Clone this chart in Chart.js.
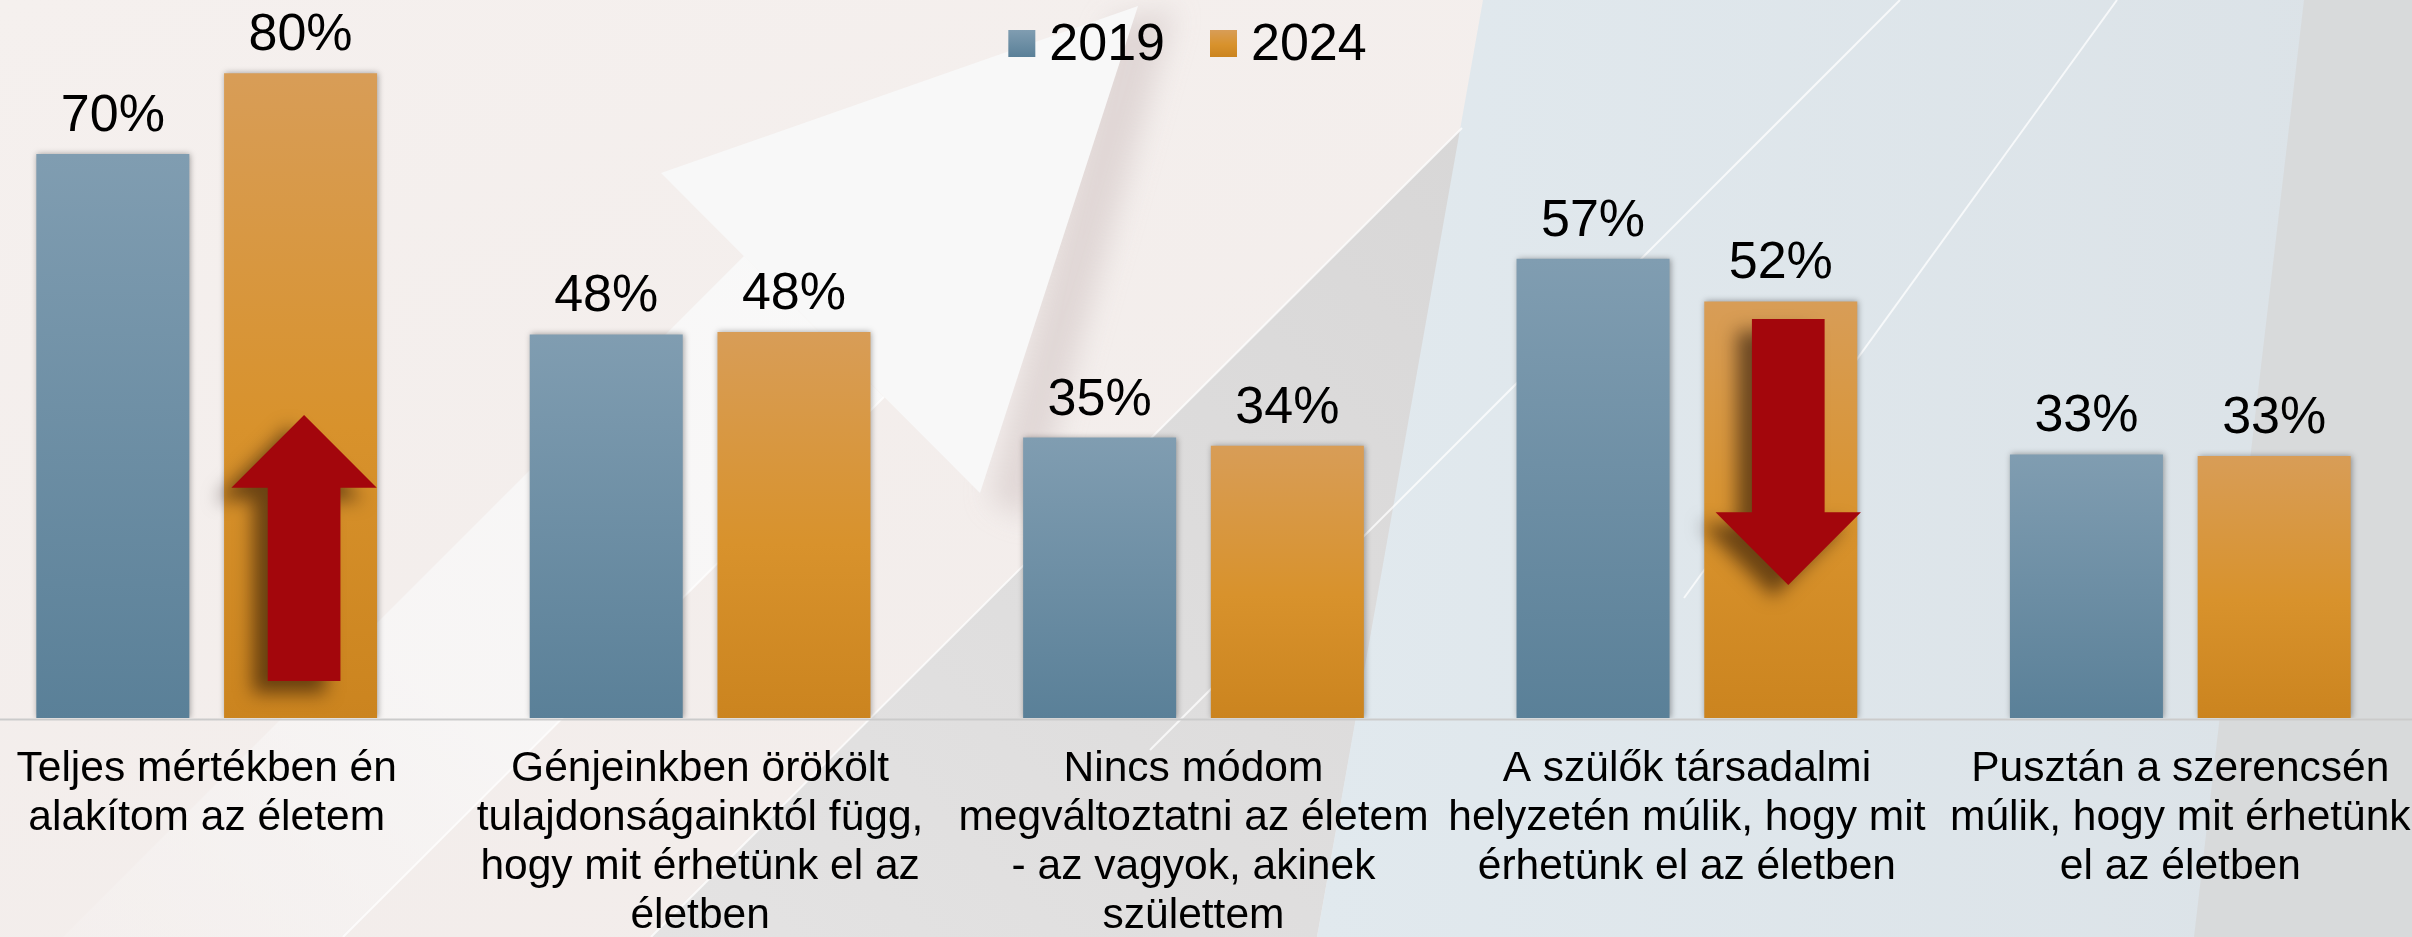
<!DOCTYPE html>
<html><head><meta charset="utf-8">
<script src="https://cdn.jsdelivr.net/npm/chart.js@4.4.1/dist/chart.umd.min.js"></script>
<style>
html,body{margin:0;padding:0;width:2412px;height:937px;overflow:hidden;background:#f4eeeb;}
#bg{position:absolute;left:0;top:0;}
#wrap{position:absolute;left:-40px;top:0;width:2467px;height:937px;}
canvas{display:block;}
</style></head><body>
<svg id="bg" width="2412" height="937" xmlns="http://www.w3.org/2000/svg">
<defs>
 <linearGradient id="gPink" x1="0" y1="0" x2="1" y2="1"><stop offset="0" stop-color="#f5f0ee"/><stop offset="1" stop-color="#f1ebe9"/></linearGradient>
 <linearGradient id="gBlue" x1="0" y1="0" x2="1" y2="0"><stop offset="0" stop-color="#e1e9ee"/><stop offset="1" stop-color="#dbe2e7"/></linearGradient>
 <linearGradient id="gGrey" x1="1" y1="0" x2="0" y2="1"><stop offset="0" stop-color="#d8d7d7"/><stop offset="1" stop-color="#e4e3e3"/></linearGradient>
 <linearGradient id="gShaft" x1="1" y1="0" x2="0" y2="1"><stop offset="0" stop-color="#f9f9f9" stop-opacity="1"/><stop offset="0.6" stop-color="#f8f7f7" stop-opacity="0.8"/><stop offset="1" stop-color="#f6f3f2" stop-opacity="0.35"/></linearGradient>
 <filter id="blur" x="-50%" y="-50%" width="200%" height="200%"><feGaussianBlur stdDeviation="14"/></filter>
</defs>
<rect width="2412" height="937" fill="url(#gPink)"/>
<polygon points="1462,128 1317,937 651,937" fill="url(#gGrey)"/>
<polygon points="1110,20 1175,10 1030,520 990,500" fill="#ddd3d2" filter="url(#blur)" opacity="0.85"/>
<polygon points="744,256 884,397 343,937 63,937" fill="url(#gShaft)"/>
<polygon points="661,173 1138,6 980,493" fill="#f8f8f8"/>
<polygon points="1483,0 2412,0 2412,937 1317,937" fill="url(#gBlue)"/>
<polygon points="2304,0 2412,0 2412,937 2194,937" fill="#d8dadb"/>
<g stroke="#ffffff" stroke-opacity="0.75" stroke-width="2" fill="none">
 <line x1="1462" y1="128" x2="651" y2="937"/>
 <line x1="884" y1="397" x2="343" y2="937"/>
 <line x1="1900" y1="0" x2="1150" y2="750"/>
 <line x1="2117" y1="0" x2="1684" y2="598"/>
</g>
</svg>
<div id="wrap"><canvas id="c" width="2467" height="937"></canvas></div>
<script>
// ---- data ----
const categories = [
  ["Teljes mértékben én", "alakítom az életem"],
  ["Génjeinkben örökölt", "tulajdonságainktól függ,", "hogy mit érhetünk el az", "életben"],
  ["Nincs módom", "megváltoztatni az életem", "- az vagyok, akinek", "születtem"],
  ["A szülők társadalmi", "helyzetén múlik, hogy mit", "érhetünk el az életben"],
  ["Pusztán a szerencsén", "múlik, hogy mit érhetünk", "el az életben"]
];
const seriesNames = ["2019", "2024"];
const values2019 = [70, 47.6, 34.8, 57, 32.7];
const values2024 = [80, 47.9, 33.8, 51.7, 32.5];

// ---- styles ----
const FONT = '"Liberation Sans", Arial, sans-serif';
const stops2019 = [[0, '#809db1'], [1, '#5a8098']];
const stops2024 = [[0, '#d89d57'], [0.55, '#d8922c'], [1, '#cb841f']];

function barFill(stops) {
  return (c) => {
    const ch = c.chart, ys = ch.scales && ch.scales.y;
    if (!ys || c.raw == null) return stops[0][1];
    const top = ys.getPixelForValue(c.raw), bot = ys.getPixelForValue(0);
    if (!isFinite(top) || !isFinite(bot) || top === bot) return stops[0][1];
    const g = ch.ctx.createLinearGradient(0, top, 0, bot);
    stops.forEach(([o, col]) => g.addColorStop(o, col));
    return g;
  };
}

function drawArrow(ctx, cx, yTail, yTip, shaftW, headW, headH) {
  const dir = yTip < yTail ? -1 : 1;
  const yBase = yTip - dir * headH;
  ctx.beginPath();
  ctx.moveTo(cx - shaftW / 2, yTail);
  ctx.lineTo(cx - shaftW / 2, yBase);
  ctx.lineTo(cx - headW / 2, yBase);
  ctx.lineTo(cx, yTip);
  ctx.lineTo(cx + headW / 2, yBase);
  ctx.lineTo(cx + shaftW / 2, yBase);
  ctx.lineTo(cx + shaftW / 2, yTail);
  ctx.closePath();
  ctx.fill();
}

const deco = {
  id: 'deco',
  beforeDatasetsDraw(chart) {
    const { ctx, chartArea } = chart;
    ctx.save();
    ctx.strokeStyle = '#cbcbcb';
    ctx.lineWidth = 2;
    ctx.beginPath();
    ctx.moveTo(chartArea.left, chartArea.bottom + 1.5);
    ctx.lineTo(chartArea.right, chartArea.bottom + 1.5);
    ctx.stroke();
    ctx.restore();
    ctx.save();
    ctx.shadowColor = 'rgba(0,0,0,0.35)';
    ctx.shadowBlur = 6;
    ctx.shadowOffsetX = 1;
    ctx.shadowOffsetY = 0;
  },
  afterDatasetsDraw(chart, args, opts) {
    const ctx = chart.ctx;
    ctx.restore();
    const ys = chart.scales.y;
    // value labels
    ctx.save();
    ctx.fillStyle = '#000';
    ctx.font = '52px ' + FONT;
    ctx.textAlign = 'center';
    ctx.textBaseline = 'alphabetic';
    chart.data.datasets.forEach((ds, di) => {
      chart.getDatasetMeta(di).data.forEach((el, i) => {
        ctx.fillText(Math.round(ds.data[i]) + '%', el.x, el.y - 23);
      });
    });
    ctx.restore();
    // change arrows
    opts.arrows.forEach(a => {
      const el = chart.getDatasetMeta(a.series).data[a.index];
      const bw = el.width;
      ctx.save();
      ctx.fillStyle = '#a3060c';
      ctx.shadowColor = 'rgba(20,5,0,0.55)';
      ctx.shadowBlur = 18;
      ctx.shadowOffsetX = -15;
      ctx.shadowOffsetY = 12;
      drawArrow(ctx, el.x + a.dx * bw, ys.getPixelForValue(a.from), ys.getPixelForValue(a.to),
        0.475 * bw, 0.95 * bw, 0.475 * bw);
      ctx.restore();
    });
  },
  afterDraw(chart) {
    const ctx = chart.ctx;
    ctx.save();
    ctx.font = '52px ' + FONT;
    const box = 27, gap = 14, itemGap = 45;
    const widths = chart.data.datasets.map(d => ctx.measureText(d.label).width);
    const total = widths.reduce((s, w) => s + box + gap + w, 0) + itemGap * (widths.length - 1);
    let x = chart.width / 2 - total / 2 - 6;
    const allStops = [stops2019, stops2024];
    chart.data.datasets.forEach((d, i) => {
      const g = ctx.createLinearGradient(0, 30, 0, 57);
      allStops[i].forEach(([o, c]) => g.addColorStop(o, c));
      ctx.fillStyle = g;
      ctx.fillRect(x, 30, box, box);
      ctx.fillStyle = '#000';
      ctx.textBaseline = 'alphabetic';
      ctx.textAlign = 'left';
      ctx.fillText(d.label, x + box + gap, 60);
      x += box + gap + widths[i] + itemGap;
    });
    ctx.restore();
  }
};

Chart.defaults.font.family = FONT;
new Chart(document.getElementById('c'), {
  type: 'bar',
  data: {
    labels: categories,
    datasets: [
      { label: seriesNames[0], data: values2019, backgroundColor: barFill(stops2019), borderWidth: 0 },
      { label: seriesNames[1], data: values2024, backgroundColor: barFill(stops2024), borderWidth: 0 }
    ]
  },
  options: {
    responsive: false,
    animation: false,
    devicePixelRatio: 1,
    layout: { padding: 0 },
    datasets: { bar: { categoryPercentage: 0.761, barPercentage: 0.815 } },
    plugins: {
      legend: { display: false },
      tooltip: { enabled: false },
      deco: {
        arrows: [
          { index: 0, series: 1, from: 4.6, to: 37.6, dx: 0.023 },
          { index: 3, series: 1, from: 49.5, to: 16.5, dx: 0.049 }
        ]
      }
    },
    scales: {
      x: {
        grid: { display: false, drawTicks: false },
        border: { display: false },
        ticks: {
          color: '#000',
          font: { family: FONT, size: 42.5, lineHeight: 1.153 },
          padding: 27,
          maxRotation: 0, minRotation: 0, autoSkip: false
        },
        afterFit(s) { s.height = 219; s.paddingLeft = 0; s.paddingRight = 0; }
      },
      y: { display: false, min: 0, max: 89.1 }
    }
  },
  plugins: [deco]
});
</script>
</body></html>
